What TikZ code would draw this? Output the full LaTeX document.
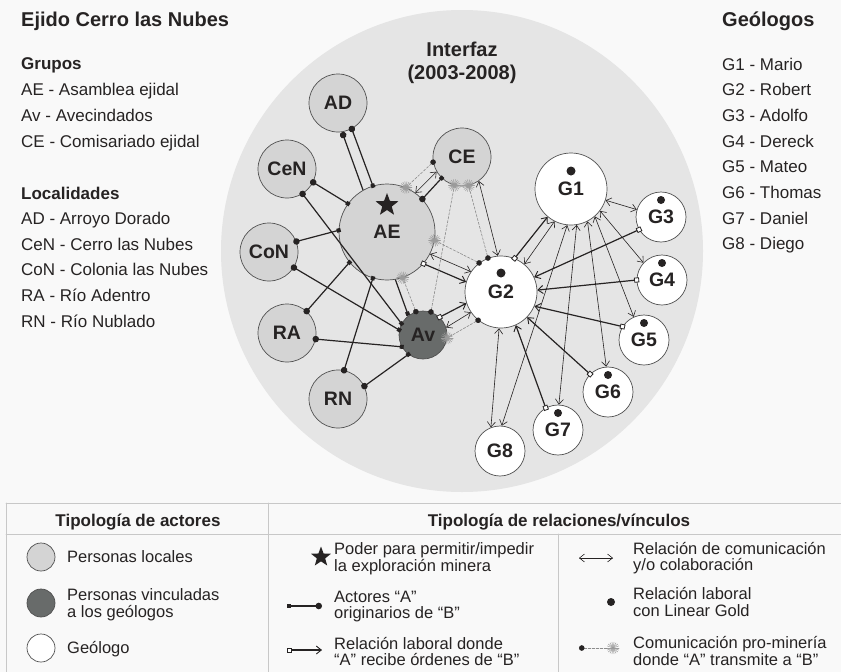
\documentclass[tikz,border=0pt]{standalone}
\usepackage{fontspec}
\setmainfont{Liberation Sans}
\usetikzlibrary{arrows.meta,shapes.geometric,backgrounds}
\definecolor{pagebg}{RGB}{249,249,249}
\definecolor{interbg}{RGB}{229,229,229}
\definecolor{localfill}{RGB}{212,212,212}
\definecolor{avfill}{RGB}{104,107,106}
\definecolor{rimgray}{RGB}{80,80,80}
\definecolor{inkdark}{RGB}{38,35,35}
\definecolor{dashgray}{RGB}{140,140,140}
\definecolor{burstgray}{RGB}{155,155,155}
\definecolor{rulegray}{RGB}{200,200,200}
\newcommand{\lblfont}{\fontsize{19.5}{22}\selectfont\bfseries}
\newcommand{\ttlfont}{\fontsize{20}{23}\selectfont\bfseries}
\newcommand{\grpfont}{\fontsize{17}{20}\selectfont\bfseries}
\newcommand{\listfont}{\fontsize{17}{20}\selectfont}
\newcommand{\legfont}{\fontsize{16.5}{16.5}\selectfont}
\tikzset{
  txt/.style={text=inkdark, inner sep=0pt},
  actor/.style={circle, draw=rimgray, line width=0.7pt, inner sep=0pt, font=\lblfont, text=inkdark},
  local/.style={actor, fill=localfill, minimum size=58pt},
  assembly/.style={actor, fill=localfill, minimum size=96pt},
  linked/.style={actor, fill=avfill, minimum size=48pt},
  geobig/.style={actor, fill=white, minimum size=72pt},
  geosmall/.style={actor, fill=white, minimum size=50pt},
  legcirc/.style={circle, draw=rimgray, line width=0.7pt, minimum size=28pt, inner sep=0pt},
  lgdot/.style={circle, fill=inkdark, inner sep=0pt, minimum size=8pt},
  powerstar/.style={star, star points=5, star point ratio=2.4, fill=inkdark, inner sep=0pt, minimum size=24pt},
  comm/.style={inkdark, line width=0.6pt, {Straight Barb[length=5pt,width=8pt]}-{Straight Barb[length=5pt,width=8pt]}},
  labor/.style={inkdark, line width=1.2pt, {Square[length=5pt,width=5pt,fill=white,line width=0.8pt]}-{Straight Barb[length=5pt,width=8pt,line width=0.9pt]}, shorten <=-2.5pt},
  origin/.style={inkdark, line width=1.2pt, {Square[length=4pt,width=4pt]}-{Circle[length=6.5pt]}, shorten <=-2pt, shorten >=-3.2pt},
  promin/.style={dashgray, line width=0.6pt, dash pattern=on 2.5pt off 1.5pt, {Circle[length=5.5pt,color=inkdark]}-, shorten <=-2.7pt},
  burstray/.style={burstgray, line width=0.5pt, solid, arrows=-},
  burst/.pic={\foreach \a in {0,20,...,340} \draw[burstray] (0,0) -- (\a:6pt);},
  listtxt/.style={txt, font=\listfont, anchor=base west},
  legtxt/.style={txt, font=\legfont, anchor=west, align=left}
}

\begin{document}
\begin{tikzpicture}[x=1pt, y=-1pt, line cap=round, line join=round]
  \useasboundingbox (0,0) rectangle (841,672);

  % headings and lists
  \node[txt, font=\ttlfont, anchor=base west] (ejido) at (21,26) {Ejido Cerro las Nubes};
  \node[txt, font=\grpfont, anchor=base west] (grupos) at (21,69) {Grupos};
  \node[listtxt] (lAE) at (21,95.7) {AE - Asamblea ejidal};
  \node[listtxt] (lAv) at (21,121.4) {Av - Avecindados};
  \node[listtxt] (lCE) at (21,147.1) {CE - Comisariado ejidal};
  \node[txt, font=\grpfont, anchor=base west] (localidades) at (21,199) {Localidades};
  \node[listtxt] (lAD) at (21,224.5) {AD - Arroyo Dorado};
  \node[listtxt] (lCeN) at (21,250.2) {CeN - Cerro las Nubes};
  \node[listtxt] (lCoN) at (21,275.9) {CoN - Colonia las Nubes};
  \node[listtxt] (lRA) at (21,301.6) {RA - Río Adentro};
  \node[listtxt] (lRN) at (21,327.3) {RN - Río Nublado};

  \node[txt, font=\ttlfont, anchor=base west] (geologos) at (722,26.5) {Geólogos};
  \node[listtxt] (lG1) at (722,70) {G1 - Mario};
  \node[listtxt] (lG2) at (722,95.7) {G2 - Robert};
  \node[listtxt] (lG3) at (722,121.4) {G3 - Adolfo};
  \node[listtxt] (lG4) at (722,147.1) {G4 - Dereck};
  \node[listtxt] (lG5) at (722,172.8) {G5 - Mateo};
  \node[listtxt] (lG6) at (722,198.5) {G6 - Thomas};
  \node[listtxt] (lG7) at (722,224.2) {G7 - Daniel};
  \node[listtxt] (lG8) at (722,249.9) {G8 - Diego};

  \node[txt, font=\ttlfont, anchor=base] (interfaz) at (462,56) {Interfaz};
  \node[txt, font=\ttlfont, anchor=base] (periodo) at (462,79) {(2003-2008)};

  % actors
  \node[local] (AD) at (338,103) {AD};
  \node[local] (CeN) at (287,169) {CeN};
  \node[local] (CoN) at (269,252) {CoN};
  \node[local] (RA) at (287,333) {RA};
  \node[local] (RN) at (338,399) {RN};
  \node[assembly] (AE) at (387,232) {AE};
  \node[local] (CE) at (462,157) {CE};
  \node[linked] (Av) at (423,335) {Av};
  \node[geobig] (G1) at (571,189) {G1};
  \node[geobig] (G2) at (501,292) {G2};
  \node[geosmall] (G3) at (661,217) {G3};
  \node[geosmall] (G4) at (662,280) {G4};
  \node[geosmall] (G5) at (644,340) {G5};
  \node[geosmall] (G6) at (608,392) {G6};
  \node[geosmall] (G7) at (558,430) {G7};
  \node[geosmall] (G8) at (500,451) {G8};

  \node[powerstar] (aestar) at ([yshift=27pt]AE.center) {};
  \node[lgdot, minimum size=9pt] (g1dot) at ([yshift=18pt]G1.center) {};
  \node[lgdot, minimum size=9pt] (g2dot) at ([yshift=19pt]G2.center) {};
  \node[lgdot] (g3dot) at ([yshift=17pt]G3.center) {};
  \node[lgdot] (g4dot) at ([yshift=17pt]G4.center) {};
  \node[lgdot] (g5dot) at ([yshift=17pt]G5.center) {};
  \node[lgdot] (g6dot) at ([yshift=17pt]G6.center) {};
  \node[lgdot] (g7dot) at ([yshift=17pt]G7.center) {};

  \begin{scope}[on background layer]
    \fill[pagebg] (0,0) rectangle (841,672);
    \fill[interbg] (462,251) circle (241);
    \draw[origin, shorten <=0pt, shorten >=0pt] (Av.127) -- (AD.-82);
  \end{scope}

  % actores originarios
  \draw[origin] (AE.107) -- (AD.-62);
  \draw[origin] (AE.144) -- (CeN.-27);
  \draw[origin] (Av.152) -- (CeN.-58);
  \draw[origin] (AE.178) -- (CoN.21);
  \draw[origin] (Av.168) -- (CoN.-32);
  \draw[origin] (AE.219) -- (RA.48);
  \draw[origin] (Av.209) -- (RA.-12);
  \draw[origin] (AE.253) -- (RN.78);
  \draw[origin] (Av.233) -- (RN.26);
  \draw[origin] (CE.226) -- (AE.43);

  % comunicacion
  \draw[comm] (AE.54) -- (CE.210);
  \draw[comm] (AE.-27) -- (G2.146);
  \draw[comm] (CE.-55) -- (G2.95);
  \draw[comm] (Av.18) -- (G2.214);
  \draw[comm] (G2.50) -- (G1.243);
  \draw[comm] (G2.267) -- (G8.111);
  \draw[comm] (G1.342) -- (G3.163);
  \draw[comm] (G1.323) -- (G4.137);
  \draw[comm] (G1.311) -- (G5.114);
  \draw[comm] (G1.297) -- (G6.94);
  \draw[comm] (G1.279) -- (G7.88);
  \draw[comm] (G1.264) -- (G8.86);

  % relacion laboral
  \draw[labor] (AE.-41) -- (G2.164);
  \draw[labor] (Av.47) -- (G2.198);
  \draw[labor] (G2.68) -- (G1.230);
  \draw[labor] (G3.210) -- (G2.24);
  \draw[labor] (G4.180) -- (G2.3);
  \draw[labor] (G5.148) -- (G2.-23);
  \draw[labor] (G6.135) -- (G2.-44);
  \draw[labor] (G7.119) -- (G2.-66);

  % pro-mineria
  \draw[promin] (CE.190) -- (AE.67) pic{burst};
  \draw[promin] (Av.107) -- (AE.289) pic{burst};
  \draw[promin] (Av.71) -- (CE.255) pic{burst};
  \draw[promin] (G2.111) -- (CE.283) pic{burst};
  \draw[promin] (G2.127) -- (AE.-10) pic{burst};
  \draw[promin] (G2.231) -- (Av.-7) pic{burst};

  % legend table
  \draw[rulegray, line width=0.8pt] (6,503) -- (841,503);
  \draw[rulegray, line width=0.8pt] (6,534) -- (841,534);
  \draw[rulegray, line width=0.8pt] (6,503) -- (6,672);
  \draw[rulegray, line width=0.8pt] (268,503) -- (268,672);
  \draw[rulegray, line width=0.8pt] (558,534) -- (558,672);
  \node[txt, font=\grpfont, anchor=base] (hactores) at (138,526) {Tipología de actores};
  \node[txt, font=\grpfont, anchor=base] (hrelaciones) at (559,526) {Tipología de relaciones/vínculos};

  \node[legcirc, fill=localfill] (legloc) at (41,557) {};
  \node[legcirc, fill=avfill] (leglink) at (41,603) {};
  \node[legcirc, fill=white] (leggeo) at (41,648) {};
  \node[legtxt] (tloc) at (67,557) {Personas locales};
  \node[legtxt] (tlink) at (67,604.5) {Personas vinculadas\\a los geólogos};
  \node[legtxt] (tgeo) at (67,649.3) {Geólogo};

  \node[powerstar, minimum size=21pt] (legstar) at (321,557) {};
  \coordinate (lo1) at (287,606);
  \coordinate (lo2) at (322,606);
  \draw[origin, shorten <=0pt, shorten >=0pt] (lo1) -- (lo2);
  \coordinate (la1) at (287,650);
  \coordinate (la2) at (322,650);
  \draw[labor, shorten <=0pt] (la1) -- (la2);
  \node[legtxt] (tpower) at (334,558.5) {Poder para permitir/impedir\\la exploración minera};
  \node[legtxt] (torig) at (334,606.5) {Actores “A”\\originarios de “B”};
  \node[legtxt] (tlabor) at (334,651.5) {Relación laboral donde\\“A” recibe órdenes de “B”};

  \coordinate (lc1) at (579,558);
  \coordinate (lc2) at (613,558);
  \draw[comm] (lc1) -- (lc2);
  \node[lgdot] (legdot) at (611,602) {};
  \coordinate (lp1) at (579,648);
  \coordinate (lp2) at (613,648);
  \draw[promin, shorten <=0pt] (lp1) -- (lp2) pic{burst};
  \node[legtxt] (tcomm) at (633,558) {Relación de comunicación\\y/o colaboración};
  \node[legtxt] (tgold) at (633,602) {Relación laboral\\con Linear Gold};
  \node[legtxt] (tprom) at (633,651) {Comunicación pro-minería\\donde “A” transmite a “B”};
\end{tikzpicture}
\end{document}
